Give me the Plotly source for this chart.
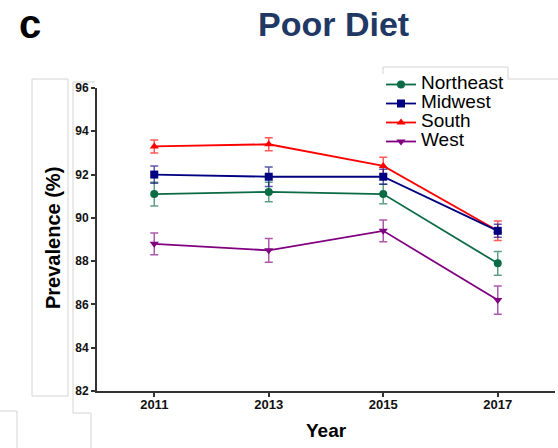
import plotly.graph_objects as go

# Survey years and regional prevalence (%) of poor diet, with error margins
years = [2011, 2013, 2015, 2017]

regions = ["Northeast", "Midwest", "South", "West"]
northeast = [91.1, 91.2, 91.1, 87.9]
midwest = [92.0, 91.9, 91.9, 89.4]
south = [93.3, 93.4, 92.4, 89.4]
west = [88.8, 88.5, 89.4, 86.2]

northeast_err = [0.55, 0.45, 0.45, 0.55]
midwest_err = [0.4, 0.45, 0.35, 0.3]
south_err = [0.3, 0.3, 0.4, 0.45]
west_err = [0.5, 0.55, 0.5, 0.65]

y_ticks = [82, 84, 86, 88, 90, 92, 94, 96]

FONT = "Liberation Sans, Arial, sans-serif"
W, H = 558, 448
L, R, T, B = 97, 555, 88, 391  # plot area in pixels


def fx(p):
    return (p - L) / (R - L)


def fy(p):
    return (B - p) / (B - T)


styles = {
    "Northeast": dict(color="#0b6b45", err="rgba(11,107,69,0.65)", symbol="circle", size=8),
    "Midwest": dict(color="#000080", err="rgba(0,0,128,0.65)", symbol="square", size=8),
    "South": dict(color="#ff0000", err="rgba(255,0,0,0.65)", symbol="triangle-up", size=8),
    "West": dict(color="#800080", err="rgba(128,0,128,0.65)", symbol="triangle-down", size=8),
}
values = {"Northeast": (northeast, northeast_err), "Midwest": (midwest, midwest_err),
          "South": (south, south_err), "West": (west, west_err)}

fig = go.Figure()
# South is drawn before Midwest so the Midwest marker sits on top in 2017
draw_order = ["Northeast", "South", "Midwest", "West"]
for name in draw_order:
    st = styles[name]
    vals, errs = values[name]
    fig.add_trace(go.Scatter(
        x=years, y=vals, name=f'<span style="font-size:19px">{name}</span>',
        mode="lines+markers",
        legendrank=regions.index(name) + 1,
        line=dict(color=st["color"], width=1.8),
        marker=dict(color=st["color"], symbol=st["symbol"], size=st["size"]),
        error_y=dict(type="data", array=errs, visible=True, color=st["err"],
                     thickness=1.5, width=4),
    ))

# Thin grey outlines of the text frames around the panel
grey = dict(color="#d4d4d4", width=1)
segments = [
    # frame around the y-axis title
    (32, 79, 68, 79), (32, 79, 32, 396), (68, 79, 68, 396), (32, 396, 68, 396),
    # frame behind the y tick labels
    (73, 82, 95, 82), (73, 82, 73, 413), (73, 413, 91, 413), (91, 413, 91, 448),
    # bottom-left frame
    (0, 411, 17, 411), (17, 411, 17, 448),
    # legend frame
    (383, 67, 508, 67), (383, 67, 383, 74), (508, 67, 508, 79), (508, 79, 558, 79),
]
shapes = [dict(type="line", xref="paper", yref="paper",
               x0=fx(a), y0=fy(b), x1=fx(c), y1=fy(d), line=grey, layer="below")
          for a, b, c, d in segments]

annotations = [
    dict(text="<b>c</b>", x=fx(30), y=fy(0), xref="paper", yref="paper",
         showarrow=False, xanchor="center", yanchor="top",
         font=dict(family=FONT, size=40, color="#000000")),
    dict(text="<b>Poor Diet</b>", x=fx(333), y=fy(24), xref="paper", yref="paper",
         showarrow=False, xanchor="center", yanchor="middle",
         font=dict(family=FONT, size=34, color="#1f3864")),
    dict(text="<b>Prevalence (%)</b>", x=fx(53), y=fy(238), xref="paper", yref="paper",
         showarrow=False, xanchor="center", yanchor="middle", textangle=-90,
         font=dict(family=FONT, size=20, color="#000000")),
    dict(text="<b>Year</b>", x=fx(326), y=fy(430), xref="paper", yref="paper",
         showarrow=False, xanchor="center", yanchor="middle",
         font=dict(family=FONT, size=19, color="#000000")),
]

fig.update_layout(
    width=W, height=H,
    margin=dict(l=L, r=W - R, t=T, b=H - B, pad=0),
    paper_bgcolor="white", plot_bgcolor="white",
    font=dict(family=FONT, color="#000000"),
    showlegend=True,
    legend=dict(x=fx(381), y=fy(70), xanchor="left", yanchor="top",
                bgcolor="rgba(0,0,0,0)", borderwidth=0,
                font=dict(family=FONT, size=11, color="#000000"),
                itemwidth=30, tracegroupgap=0),
    shapes=shapes,
    annotations=annotations,
)
fig.update_xaxes(
    range=[2010, 2018], tickvals=years, ticktext=[str(y) for y in years],
    showgrid=False, zeroline=False, showline=True, linecolor="#333333", linewidth=2,
    ticks="outside", ticklen=4, tickwidth=1.5, tickcolor="#333333",
    ticklabelstandoff=-4,
    tickfont=dict(family=FONT, size=13, color="#111111", weight="bold"),
)
fig.update_yaxes(
    range=[82, 96], tickvals=y_ticks, ticktext=[str(v) for v in y_ticks],
    showgrid=False, zeroline=False, showline=True, linecolor="#333333", linewidth=2,
    ticks="outside", ticklen=4, tickwidth=1.5, tickcolor="#333333",
    tickfont=dict(family=FONT, size=12, color="#111111", weight="bold"),
)

fig.write_html("out.html")
